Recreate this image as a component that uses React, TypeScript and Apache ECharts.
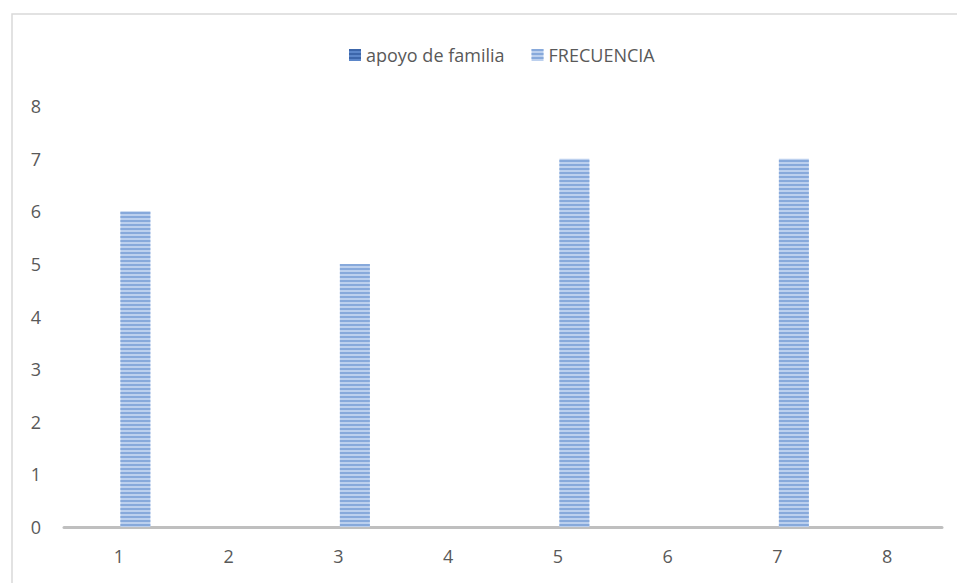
import React, { useEffect, useRef } from "react";
import * as echarts from "echarts";

const categories = ["1", "2", "3", "4", "5", "6", "7", "8"];
const apoyoDeFamilia: (number | null)[] = [null, null, null, null, null, null, null, null];
const frecuencia: (number | null)[] = [6, null, 5, null, 7, null, 7, null];
const seriesNames = ["apoyo de familia", "FRECUENCIA"];

const FONT = "'Open Sans', 'Noto Sans', sans-serif";
const TEXT = "#595959";

export default function App() {
  const ref = useRef<HTMLDivElement>(null);
  useEffect(() => {
    if (!ref.current) return;
    const chart = echarts.init(ref.current, undefined, { renderer: "svg" });
    const stripe = (c: string) => ({
      symbol: "rect",
      symbolSize: 1,
      dashArrayX: [[1, 0]],
      dashArrayY: [2, 2],
      rotation: 0,
      color: c,
    });
    chart.setOption({
      animation: false,
      backgroundColor: "#ffffff",
      textStyle: { fontFamily: FONT },
      graphic: [
        {
          type: "rect",
          shape: { x: 12, y: 14, width: 1000, height: 700 },
          style: { fill: "none", stroke: "#d9d9d9", lineWidth: 1.5 },
          silent: true,
        },
      ],
      legend: {
        data: seriesNames,
        top: 41,
        left: 344,
        itemWidth: 12,
        itemHeight: 12,
        itemGap: 27,
        icon: "rect",
        textStyle: { color: TEXT, fontSize: 18, fontFamily: FONT },
      },
      grid: { left: 64, right: 15, top: 106, bottom: 56, containLabel: false },
      xAxis: {
        type: "category",
        data: categories,
        axisLine: { lineStyle: { color: "#bfbfbf", width: 3 } },
        axisTick: { show: false },
        axisLabel: { color: TEXT, fontSize: 18, margin: 20 },
      },
      yAxis: {
        type: "value",
        min: 0,
        max: 8,
        interval: 1,
        splitLine: { show: false },
        axisLine: { show: false },
        axisTick: { show: false },
        axisLabel: { color: TEXT, fontSize: 18, margin: 23 },
      },
      series: [
        {
          name: seriesNames[0],
          type: "bar",
          data: apoyoDeFamilia,
          barWidth: 30,
          barGap: "10%",
          itemStyle: { color: "#5b86c9", decal: stripe("rgba(40,80,150,0.6)") },
        },
        {
          name: seriesNames[1],
          type: "bar",
          data: frecuencia,
          barWidth: 30,
          barGap: "10%",
          itemStyle: { color: "#bcd0ee", decal: stripe("rgba(130,165,218,0.9)") },
        },
      ],
    });
    return () => chart.dispose();
  }, []);
  return (
    <div
      ref={ref}
      style={{ position: "fixed", left: 0, top: 0, width: 957, height: 583 }}
    />
  );
}
